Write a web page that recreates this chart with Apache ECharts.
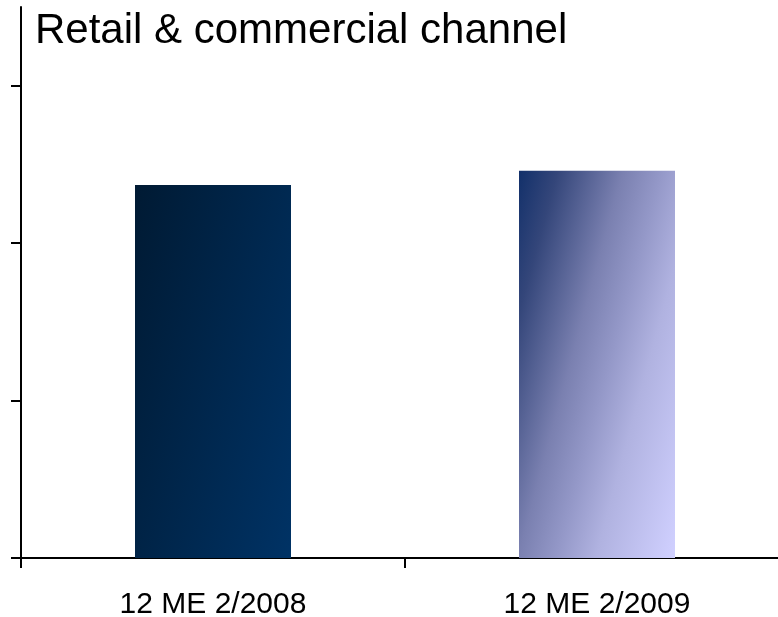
<!DOCTYPE html>
<html>
<head>
<meta charset="utf-8">
<script src="https://cdn.jsdelivr.net/npm/echarts@6/dist/echarts.min.js"></script>
<style>html,body{margin:0;padding:0;background:#fff}#c{width:778px;height:617px}</style>
</head>
<body>
<div id="c"></div>
<script>
var categories = ['12 ME 2/2008', '12 ME 2/2009'];
var values = [2.37, 2.46];
var yTicks = [0, 1, 2, 3];

function grad(stops) {
  return new echarts.graphic.LinearGradient(0, 0, 1.55, 0.17, stops);
}
var barColors = [
  grad([{offset: 0, color: '#001a33'}, {offset: 1, color: '#003366'}]),
  grad([{offset: 0, color: '#12306a'}, {offset: 0.15, color: '#34467a'}, {offset: 0.4, color: '#7a80b0'},
        {offset: 0.55, color: '#9498c8'}, {offset: 0.7, color: '#b0b2e0'}, {offset: 1, color: '#d0d0ff'}])
];

var chart = echarts.init(document.getElementById('c'), null, {renderer: 'canvas'});
chart.setOption({
  animation: false,
  backgroundColor: '#ffffff',
  title: {
    text: 'Retail & commercial channel',
    left: 30, top: 5,
    textStyle: {fontFamily: 'Liberation Sans, Arial, sans-serif', fontSize: 42, fontWeight: 'normal', color: '#000'}
  },
  grid: {left: 21, width: 768, top: 7, bottom: 59, containLabel: false, outerBoundsMode: 'none'},
  xAxis: {
    type: 'category',
    data: categories,
    axisLine: {lineStyle: {color: '#000', width: 2}},
    axisTick: {show: true, length: 10, lineStyle: {color: '#000', width: 2}},
    axisLabel: {fontFamily: 'Liberation Sans, Arial, sans-serif', fontSize: 30, color: '#000', margin: 32}
  },
  yAxis: {
    type: 'value',
    min: 0, max: 3.5,
    axisLine: {show: true, lineStyle: {color: '#000', width: 2}},
    axisTick: {show: true, length: 10, customValues: yTicks, lineStyle: {color: '#000', width: 2}},
    axisLabel: {show: false},
    splitLine: {show: false}
  },
  series: [{
    type: 'bar',
    barWidth: 156,
    data: values.map(function (v, i) { return {value: v, itemStyle: {color: barColors[i]}}; })
  }]
});
</script>
</body>
</html>
